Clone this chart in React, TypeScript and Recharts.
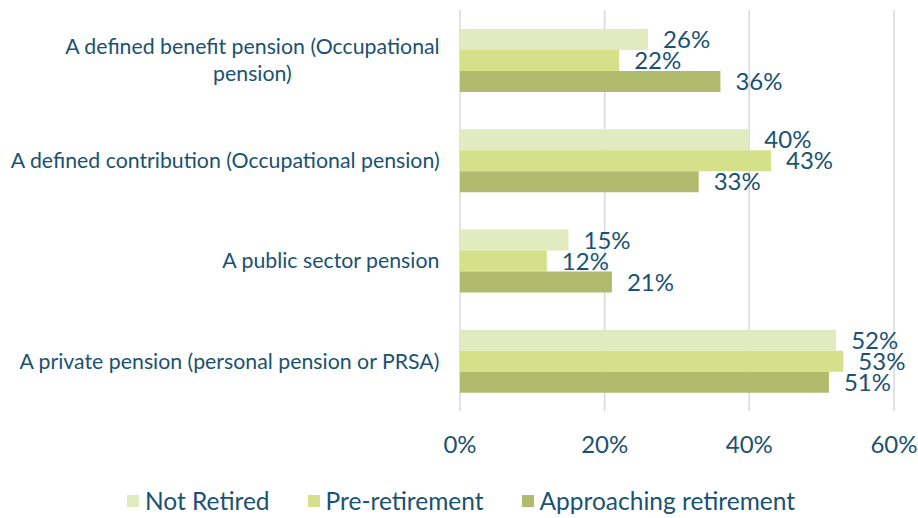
import { BarChart, Bar, XAxis, YAxis, CartesianGrid, Legend, LabelList } from 'recharts';

const categories = [
  'A defined benefit pension (Occupational\npension)',
  'A defined contribution (Occupational pension)',
  'A public sector pension',
  'A private pension (personal pension or PRSA)',
];
const notRetired = [26, 40, 15, 52];
const preRetirement = [22, 43, 12, 53];
const approaching = [36, 33, 21, 51];
const xTicks = [0, 20, 40, 60];

const series = [
  { key: 'notRetired', name: 'Not Retired', color: '#E2EBC0' },
  { key: 'preRetirement', name: 'Pre-retirement', color: '#D5E18A' },
  { key: 'approaching', name: 'Approaching retirement', color: '#B0BB6E' },
];

const data = categories.map((category, i) => ({
  category,
  notRetired: notRetired[i],
  preRetirement: preRetirement[i],
  approaching: approaching[i],
}));

const TEXT = '#1A5270';
const FONT = 'Lato, "Noto Sans", sans-serif';

let ctx: CanvasRenderingContext2D | null = null;
function measure(text: string, size: number) {
  if (!ctx) ctx = document.createElement('canvas').getContext('2d');
  if (!ctx) return text.length * size * 0.48;
  ctx.font = `${size}px Lato`;
  return ctx.measureText(text).width;
}

// Excel-style category label: lines centred on each other, block right-aligned
function CategoryTick(props: any) {
  const { x, y, payload } = props;
  const size = 21.3;
  const lines = String(payload.value).split('\n');
  const lineHeight = 27;
  const maxW = Math.max(...lines.map((l) => measure(l, size)));
  const cx = x - maxW / 2;
  const startY = y - ((lines.length - 1) * lineHeight) / 2;
  return (
    <text fill={TEXT} fontSize={size} fontFamily={FONT} textAnchor="middle">
      {lines.map((l, i) => (
        <tspan key={i} x={cx} y={startY + i * lineHeight} dy="0.36em">
          {l}
        </tspan>
      ))}
    </text>
  );
}

function LegendContent() {
  return (
    <div
      style={{
        height: 47,
        display: 'flex',
        justifyContent: 'center',
        alignItems: 'center',
        paddingTop: 12,
        paddingLeft: 28,
        boxSizing: 'border-box',
        fontFamily: FONT,
        fontSize: 24.5,
        color: TEXT,
      }}
    >
      {series.map((s, i) => (
        <div key={s.key} style={{ display: 'flex', alignItems: 'center', marginLeft: i === 0 ? 0 : 38 }}>
          <span style={{ width: 12, height: 12, background: s.color, marginRight: 6, display: 'inline-block' }} />
          <span>{s.name}</span>
        </div>
      ))}
    </div>
  );
}

export default function App() {
  return (
    <div style={{ position: 'absolute', left: 0, top: 0, width: 918, height: 518, background: '#fff' }}>
      <BarChart
        width={918}
        height={518}
        data={data}
        layout="vertical"
        margin={{ top: 10, right: 24, left: 0, bottom: 0 }}
        barCategoryGap="19%"
        barGap={0}
      >
        <CartesianGrid horizontal={false} stroke="#D9D9D9" strokeWidth={1.5} />
        <XAxis
          type="number"
          domain={[0, 60]}
          ticks={xTicks}
          tickFormatter={(v) => `${v}%`}
          axisLine={false}
          tickLine={false}
          tickMargin={19}
          height={60}
          tick={{ fill: TEXT, fontSize: 24, fontFamily: FONT }}
        />
        <YAxis
          type="category"
          dataKey="category"
          width={460}
          axisLine={false}
          tickLine={false}
          tickMargin={14}
          tick={<CategoryTick />}
          interval={0}
        />
        <Legend verticalAlign="bottom" content={<LegendContent />} />
        {series.map((s) => (
          <Bar key={s.key} dataKey={s.key} name={s.name} fill={s.color} isAnimationActive={false}>
            <LabelList
              dataKey={s.key}
              position="right"
              offset={15}
              formatter={(v: any) => `${v}%`}
              fill={TEXT}
              fontSize={24}
              fontFamily={FONT}
            />
          </Bar>
        ))}
      </BarChart>
    </div>
  );
}
